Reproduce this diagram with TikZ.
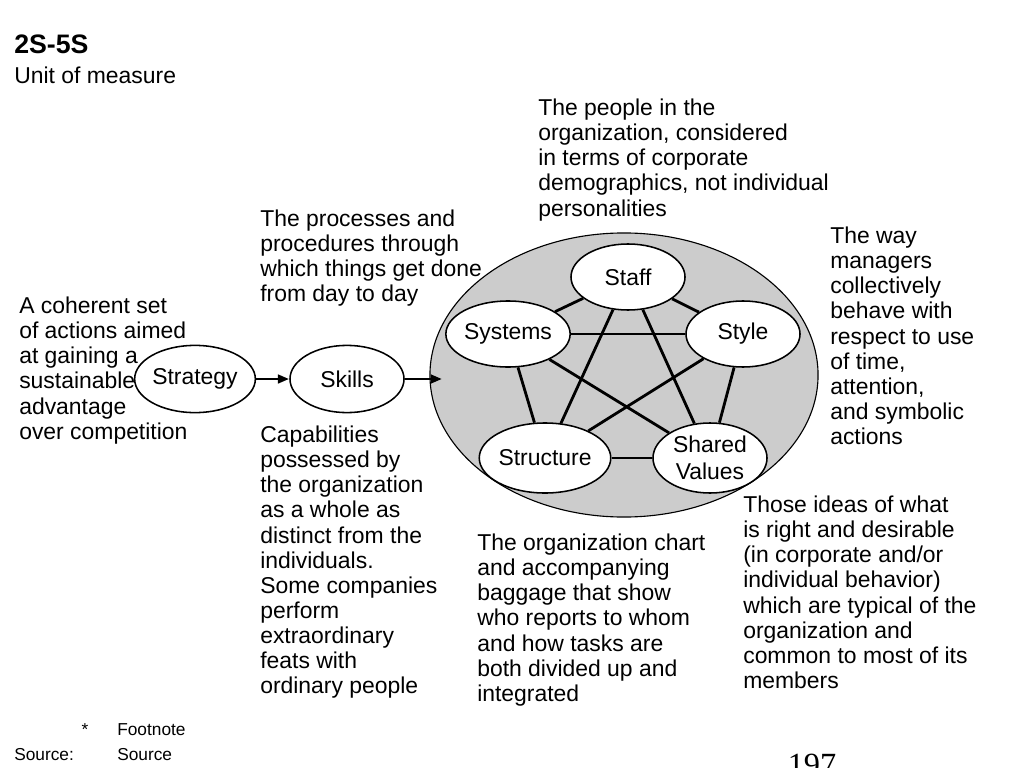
\documentclass[tikz,border=0pt]{standalone}
\usepackage{fontspec}
\setmainfont{Liberation Sans}
\newfontfamily\pagefont{Liberation Serif}
\usetikzlibrary{positioning, arrows.meta, shapes.geometric}

\begin{document}
\begin{tikzpicture}[
    x=0.025cm, y=-0.025cm,
    lbl/.style={anchor=north west, inner sep=0pt, align=left, font=\fontsize{16.3}{17.8}\selectfont},
    note/.style={anchor=west, inner sep=0pt, font=\fontsize{12.3}{14}\selectfont},
    elem/.style={ellipse, draw, line width=1.1pt, fill=white, minimum width=2.85cm, minimum height=1.65cm, inner sep=0pt, align=center, font=\fontsize{16.3}{19.5}\selectfont},
    link/.style={line width=2pt},
    arr/.style={-{Triangle[length=8pt, width=6pt]}, line width=2pt},
]
\useasboundingbox (0,0) rectangle (1024,768);
\clip (0,0) rectangle (1024,768);

% heading
\node[anchor=north west, inner sep=0pt, font=\fontsize{19}{22}\selectfont\bfseries] (title) at (14,35) {2S-5S};
\node[lbl] (unit) at (14,67) {Unit of measure};

% the seven S
\node[ellipse, draw, line width=0.8pt, fill=gray!40, minimum width=9.7cm, minimum height=7.1cm] (outer) at (624,375) {};
\node[elem] (strat) at (195,379) [minimum height=1.68cm] {Strategy};
\node[elem] (skills) at (347,379) [minimum height=1.68cm] {Skills};
\node[elem] (staff) at (628,277) {Staff};
\node[elem] (systems) at (508,334) {Systems};
\node[elem] (style) at (743,334) {Style};
\node[elem] (struct) at (545,458) [minimum height=1.75cm] {Structure};
\node[elem] (shared) at (710,458) [minimum height=1.75cm] {Shared\\Values};

\foreach \a/\b in {staff/systems, staff/style, systems/style, systems/struct, style/shared,
                   struct/shared, staff/struct, staff/shared, systems/shared, style/struct}
    \draw[link] (\a) -- (\b);

\draw[arr] (strat) -- (skills);
\draw[arr, shorten >=-9pt] (skills) -- (skills -| outer.west);

% descriptions
\node[lbl] (dstrat) at (19,297) {A coherent set\\of actions aimed\\at gaining a\\sustainable\\advantage\\over competition};
\node[lbl] (dsys) at (260,210) {The processes and\\procedures through\\which things get done\\from day to day};
\node[lbl] (dstaff) at (538,99) {The people in the\\organization, considered\\in terms of corporate\\demographics, not individual\\personalities};
\node[lbl] (dstyle) at (830,227) {The way\\managers\\collectively\\behave with\\respect to use\\of time,\\attention,\\and symbolic\\actions};
\node[lbl] (dskills) at (260,426) {Capabilities\\possessed by\\the organization\\as a whole as\\distinct from the\\individuals.\\Some companies\\perform\\extraordinary\\feats with\\ordinary people};
\node[lbl] (dstruct) at (477,534) {The organization chart\\and accompanying\\baggage that show\\who reports to whom\\and how tasks are\\both divided up and\\integrated};
\node[lbl] (dshared) at (743,496) {Those ideas of what\\is right and desirable\\(in corporate and/or\\individual behavior)\\which are typical of the\\organization and\\common to most of its\\members};

% footer
\node[note, anchor=center] (star) at (85,730) {*};
\node[note] (foot) at (117,730) {Footnote};
\node[note] (srclbl) at (14,755) {Source:};
\node[note] (src) at (117,755) {Source};
\node[anchor=base, inner sep=0pt, font=\fontsize{23}{26}\pagefont] (page) at (812,775) {197};
\end{tikzpicture}
\end{document}
